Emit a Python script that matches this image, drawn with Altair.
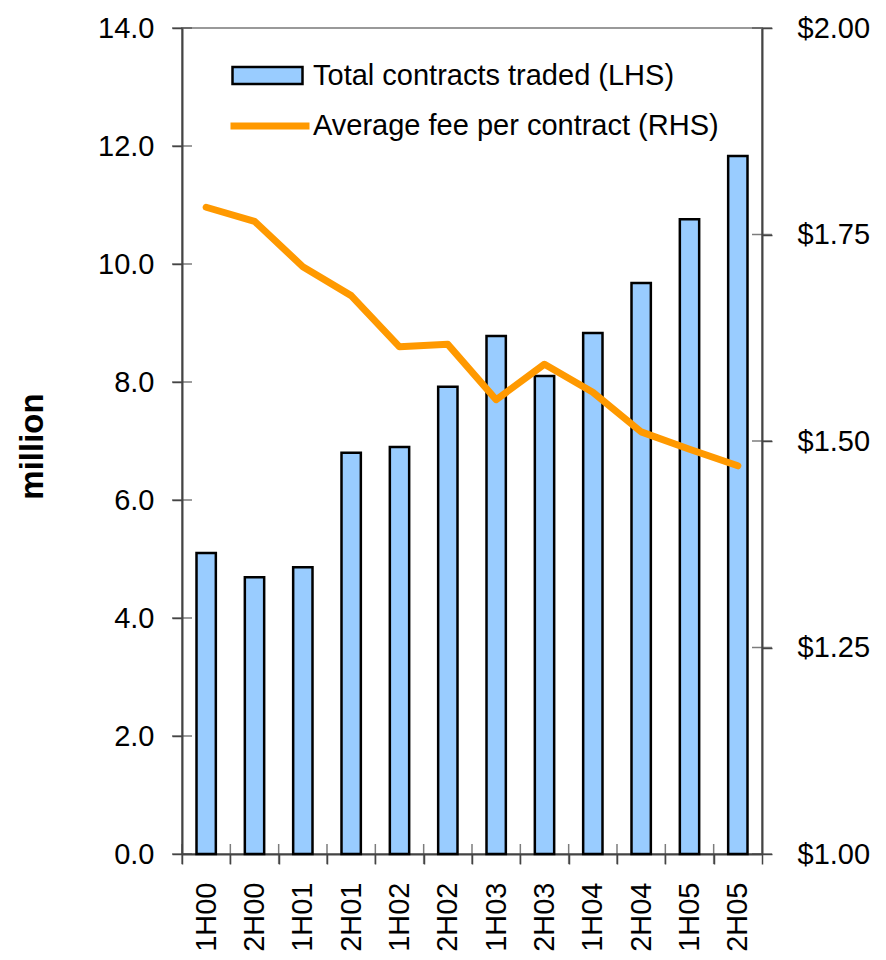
import altair as alt
import pandas as pd

periods = ["1H00", "2H00", "1H01", "2H01", "1H02", "2H02",
           "1H03", "2H03", "1H04", "2H04", "1H05", "2H05"]
contracts = [5.10, 4.69, 4.86, 6.80, 6.90, 7.92, 8.78, 8.10, 8.83, 9.68, 10.76, 11.83]
fees = [1.783, 1.766, 1.711, 1.676, 1.614, 1.617, 1.550, 1.593, 1.559, 1.511, 1.490, 1.470]
left_ticks = [0, 2, 4, 6, 8, 10, 12, 14]
right_ticks = [1.0, 1.25, 1.5, 1.75, 2.0]
bar_label = "Total contracts traded (LHS)"
line_label = "Average fee per contract (RHS)"

FONT = "Liberation Sans"
W, H = 580, 826

df = pd.DataFrame({"period": periods, "contracts": contracts, "fee": fees,
                   "bar_series": bar_label, "line_series": line_label})
lt_df = pd.DataFrame({"v": left_ticks})
rt_df = pd.DataFrame({"v": right_ticks})
xt_df = pd.DataFrame({"period": periods})

xscale = alt.Scale(domain=periods, paddingInner=0, paddingOuter=0)

bars = alt.Chart(df).mark_bar(
    width=alt.RelativeBandSize(0.4), stroke="black", strokeWidth=2.5
).encode(
    x=alt.X("period:N", sort=periods, scale=xscale,
            axis=alt.Axis(title=None, labelAngle=270, labelAlign="right",
                          labelBaseline="middle", tickBand="extent",
                          tickSize=10, labelPadding=18, labelFontSize=29)),
    y=alt.Y("contracts:Q", scale=alt.Scale(domain=[0, 14], nice=False),
            axis=alt.Axis(values=left_ticks, format=".1f", title="million",
                          tickSize=10, labelPadding=18, grid=False,
                          titleFontWeight="bold", titleFontSize=33,
                          titleAngle=270, titleX=-150, titleY=418,
                          titleAlign="center", titleBaseline="middle")),
    fill=alt.Fill("bar_series:N", scale=alt.Scale(domain=[bar_label], range=["#99CCFF"]),
                  legend=alt.Legend(title=None, orient="none", legendX=49, legendY=11,
                                    symbolType="M-1,-0.243H1V0.243H-1Z", symbolSize=4900,
                                    symbolStrokeColor="black", symbolStrokeWidth=2.5,
                                    labelFont=FONT, labelFontSize=29, labelOffset=9,
                                    labelLimit=0, padding=0)),
)

lticks = alt.Chart(lt_df).mark_tick(orient="horizontal", size=20, thickness=1.5, color="#444").encode(
    x=alt.value(0),
    y=alt.Y("v:Q", scale=alt.Scale(domain=[0, 14], nice=False), axis=None),
)
rticks = alt.Chart(rt_df).mark_tick(orient="horizontal", size=20, thickness=1.5, color="#444").encode(
    x=alt.value(W),
    y=alt.Y("v:Q", scale=alt.Scale(domain=[1, 2], nice=False, zero=False), axis=None),
)
xticks = alt.Chart(xt_df).mark_tick(orient="vertical", size=20, thickness=1.5, color="#444").encode(
    x=alt.X("period:N", sort=periods, scale=xscale, bandPosition=0),
    y=alt.value(H),
)

line = alt.Chart(df).mark_line(strokeWidth=7, strokeJoin="round", strokeCap="round").encode(
    x=alt.X("period:N", sort=periods, scale=xscale),
    y=alt.Y("fee:Q", scale=alt.Scale(domain=[1, 2], nice=False, zero=False),
            axis=alt.Axis(orient="right", values=right_ticks, format="$.2f", title=None,
                          tickSize=10, labelPadding=25, grid=False)),
    stroke=alt.Stroke("line_series:N", scale=alt.Scale(domain=[line_label], range=["#FF9900"]),
                      legend=alt.Legend(title=None, orient="none", legendX=45, legendY=55,
                                        symbolType="M-1,0H1", symbolSize=6241,
                                        symbolStrokeWidth=7,
                                        labelFont=FONT, labelFontSize=29, labelOffset=0,
                                        labelLimit=0, padding=0)),
)

chart = alt.layer(bars, lticks, rticks, xticks, line).resolve_scale(
    y="independent", fill="independent", stroke="independent"
).properties(
    width=W, height=H,
    autosize=alt.AutoSizeParams(type="none"),
    padding={"left": 174, "top": 20, "right": 116, "bottom": 98},
).configure_view(
    stroke="#999", strokeWidth=2
).configure_axis(
    labelFont=FONT, titleFont=FONT, labelFontSize=29, labelColor="black",
    titleColor="black", domainColor="#444", domainWidth=2, tickColor="#444",
    tickWidth=1.5
).configure_legend(
    labelColor="black"
)

chart.save("out.html", embed_options={"renderer": "svg", "actions": False})
